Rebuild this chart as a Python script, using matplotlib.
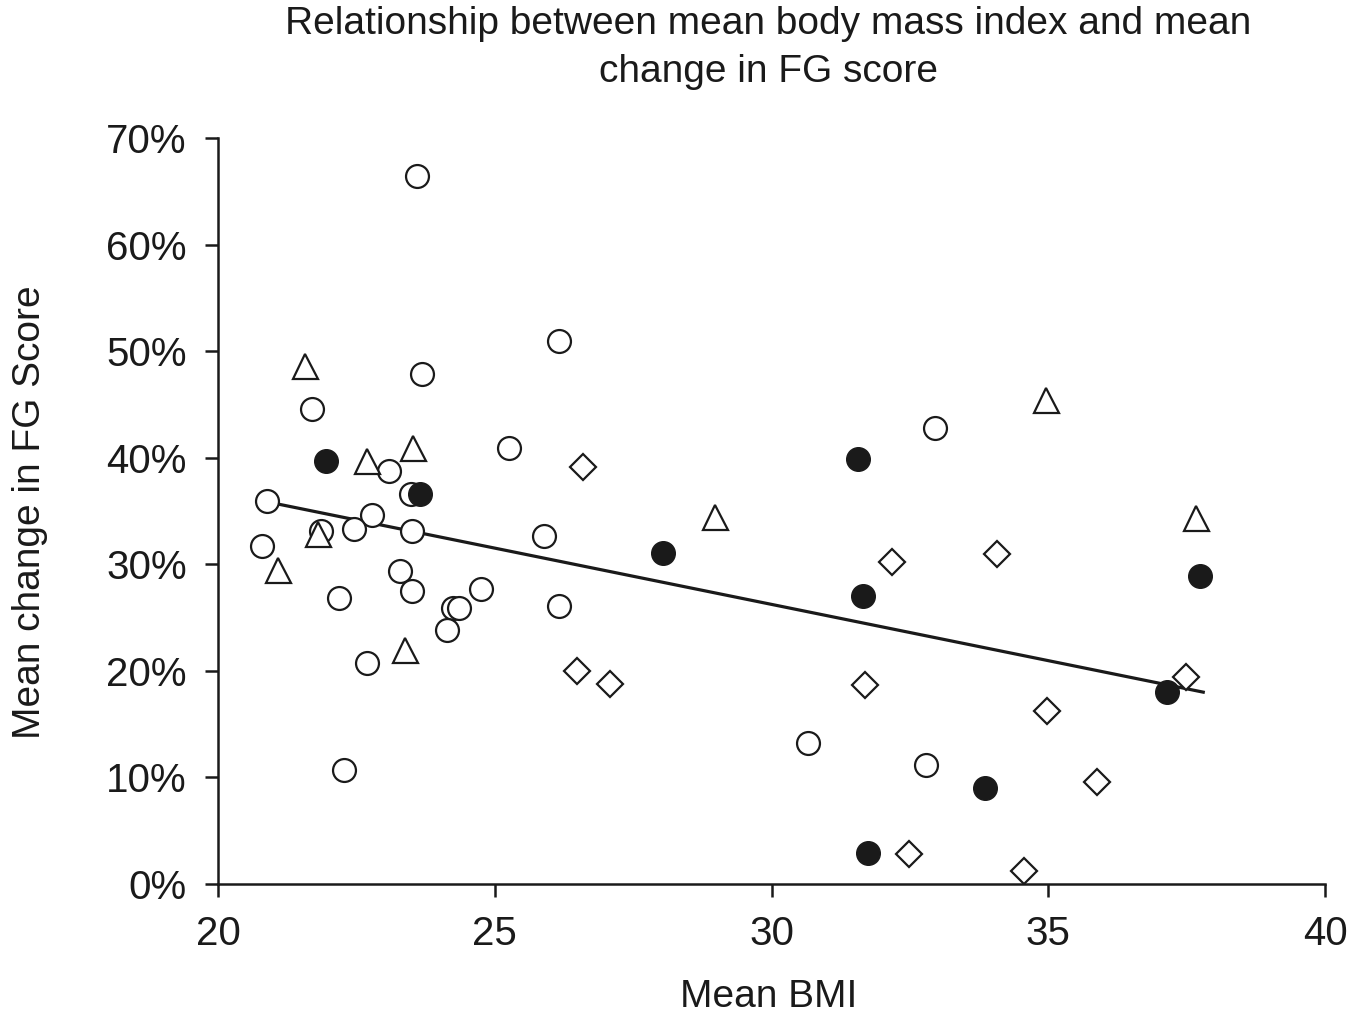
import matplotlib.pyplot as plt

plt.rcParams['font.family'] = ['Liberation Sans', 'DejaVu Sans']

# open circles
open_x = [23.6, 26.16, 23.68, 21.69, 25.25, 23.09, 20.88, 22.78, 22.46, 21.87,
          23.5, 20.79, 25.89, 23.28, 23.5, 22.19, 24.76, 24.25, 24.35, 26.16,
          24.13, 22.69, 22.28, 32.95, 30.66, 32.79, 23.48]
open_y = [66.4, 50.95, 47.9, 44.6, 40.9, 38.75, 35.9, 34.6, 33.3, 33.1,
          33.1, 31.7, 32.7, 29.4, 27.5, 26.8, 27.7, 25.9, 25.9, 26.1,
          23.8, 20.7, 10.7, 42.8, 13.2, 11.2, 36.6]

# filled circles
filled_x = [21.96, 23.65, 28.04, 31.56, 31.65, 37.74, 37.14, 33.86, 31.74]
filled_y = [39.7, 36.6, 31.1, 39.9, 27.0, 28.9, 18.0, 9.0, 2.9]

# triangles
tri_x = [21.57, 22.70, 23.52, 21.81, 21.08, 23.38, 28.98, 34.96, 37.67]
tri_y = [48.6, 39.7, 40.9, 32.8, 29.5, 22.0, 34.4, 45.4, 34.3]

# diamonds
dia_x = [26.59, 26.49, 27.08, 32.18, 34.07, 31.69, 34.98, 37.49, 35.88, 32.48, 34.56]
dia_y = [39.1, 20.0, 18.8, 30.2, 31.0, 18.7, 16.2, 19.4, 9.6, 2.8, 1.2]

# trend line end points
trend_x = [20.85, 37.8]
trend_y = [35.9, 18.0]

fig = plt.figure(figsize=(13.59, 10.15), dpi=100)
ax = fig.add_axes([0.1604, 0.1291, 0.8146, 0.7349])

ink = '#1a1a1a'
ax.plot(trend_x, trend_y, color=ink, lw=2.3, zorder=2)
ax.plot(open_x, open_y, 'o', ms=16.5, mfc='white', mec=ink, mew=1.6, zorder=3)
ax.plot(tri_x, tri_y, '^', ms=18, mfc='white', mec=ink, mew=1.6, zorder=3)
ax.plot(dia_x, dia_y, 'D', ms=13, mfc='white', mec=ink, mew=1.6, zorder=3)
ax.plot(filled_x, filled_y, 'o', ms=17, mfc=ink, mec=ink, mew=1, zorder=4)

ax.set_xlim(20, 40)
ax.set_ylim(0, 70)
ax.set_xticks([20, 25, 30, 35, 40])
ax.set_yticks(range(0, 71, 10))
ax.set_yticklabels([f'{v}%' for v in range(0, 71, 10)])

ax.spines['top'].set_visible(False)
ax.spines['right'].set_visible(False)
for s in ['left', 'bottom']:
    ax.spines[s].set_linewidth(1.8)
    ax.spines[s].set_color(ink)
ax.tick_params(length=9.5, width=1.8, color=ink, labelsize=29, labelcolor=ink, pad=13)

ax.set_xlabel('Mean BMI', fontsize=28, color=ink, va='top')
ax.xaxis.set_label_coords(0.497, -0.128)
ax.set_ylabel('Mean change in FG Score', fontsize=28, color=ink)
ax.yaxis.set_label_coords(-0.1536, 0.499)

fig.text(0.5655, 1 - 48 / 1015, 'Relationship between mean body mass index and mean\nchange in FG score',
         ha='center', va='center', fontsize=28, color=ink, linespacing=1.42)

fig.savefig('out.png', dpi=100)
